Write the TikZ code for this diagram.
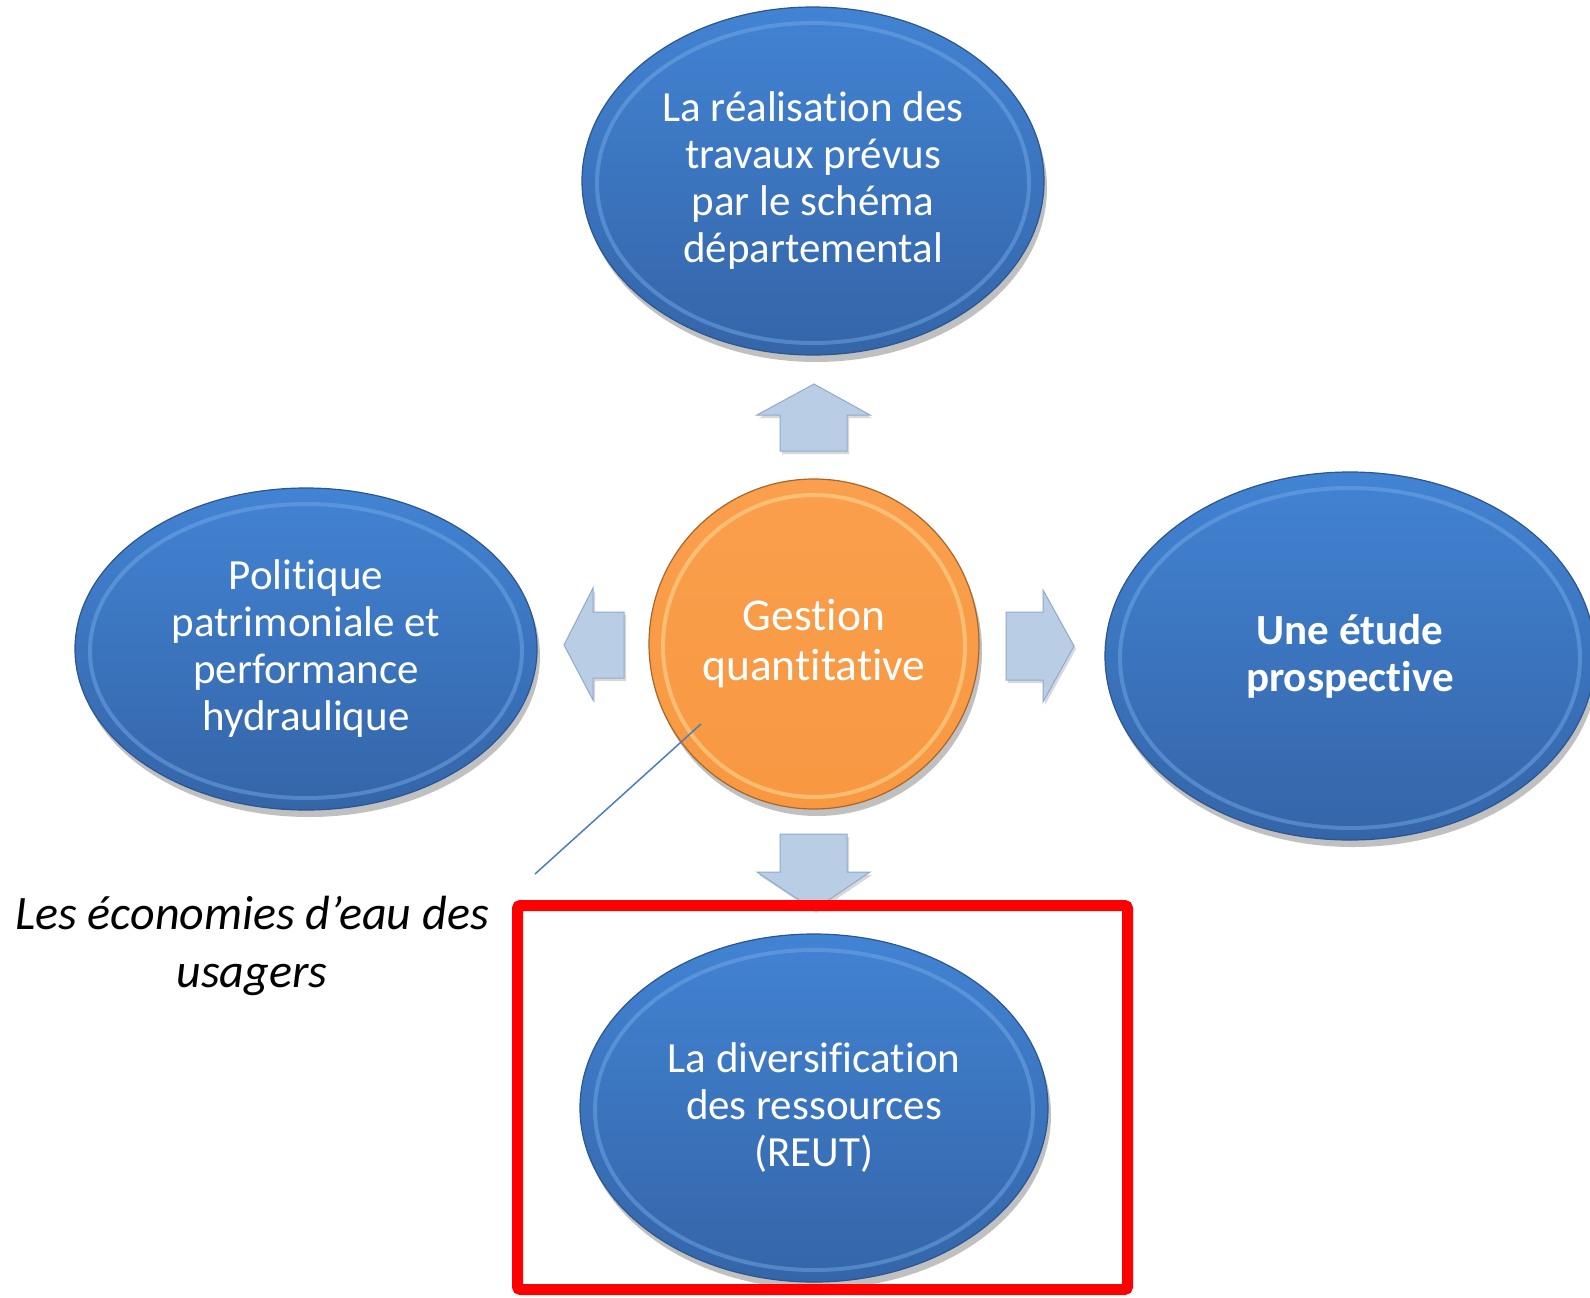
\documentclass[tikz,border=0pt]{standalone}
\usepackage{fontspec}
\setmainfont[Ligatures=NoCommon]{Carlito}
\usetikzlibrary{shapes.geometric,shadows}
\definecolor{bluetop}{HTML}{4283D3}
\definecolor{bluebot}{HTML}{3465A8}
\definecolor{blueedge}{HTML}{2B5690}
\definecolor{bluerim}{HTML}{79AEEB}
\definecolor{orangetop}{HTML}{FA9F4D}
\definecolor{orangebot}{HTML}{F89841}
\definecolor{orangeedge}{HTML}{A8662A}
\definecolor{orangerim}{HTML}{FFD690}
\definecolor{arrowfill}{HTML}{B9CDE5}
\definecolor{arrowedge}{HTML}{8FAAD0}
\definecolor{calloutline}{HTML}{4A7EBB}
\tikzset{
  bubble/.style={ellipse, inner sep=0pt, top color=bluetop, bottom color=bluebot,
    draw=blueedge, line width=1.2pt, text=white, align=center,
    font=\fontsize{43}{47}\selectfont,
    drop shadow={shadow xshift=3pt, shadow yshift=-7pt, opacity=0.35, fill=black!70}},
  rim/.style={ellipse, inner sep=0pt, draw=bluerim, line width=4pt, opacity=0.45},
  hub/.style={circle, inner sep=0pt, top color=orangetop, bottom color=orangebot,
    draw=orangeedge, line width=1.2pt, text=white, align=center,
    font=\fontsize{45.5}{50}\selectfont,
    drop shadow={shadow xshift=3pt, shadow yshift=-7pt, opacity=0.35, fill=black!70}},
  hubrim/.style={circle, inner sep=0pt, draw=orangerim, line width=4pt, opacity=0.6},
  blockarrow/.style={fill=arrowfill, draw=arrowedge, line width=1pt, line join=miter,
    drop shadow={shadow xshift=2pt, shadow yshift=-3pt, opacity=0.25, fill=black!60}},
  callout/.style={draw=calloutline, line width=1.5pt},
  redframe/.style={draw=red, line width=11pt, rounded corners=3pt},
  note/.style={font=\fontsize{48}{58}\selectfont\itshape, align=center, text=black}
}
\begin{document}
\begin{tikzpicture}[x=1pt,y=-1pt]
\useasboundingbox (0,0) rectangle (1590,1298);
\fill[white] (0,0) rectangle (1590,1298);

% block arrows
\draw[blockarrow] (814,384) -- (870,415) -- (847,415) -- (847,451) -- (780,451) -- (780,415) -- (757,415) -- cycle;
\draw[blockarrow] (564,645) -- (593,588) -- (593,612) -- (624,612) -- (624,678) -- (593,678) -- (593,700) -- cycle;
\draw[blockarrow] (1006,612) -- (1043,612) -- (1043,590) -- (1074,646) -- (1043,702) -- (1043,680) -- (1006,680) -- cycle;
\draw[blockarrow] (780,834) -- (847,834) -- (847,872) -- (870,872) -- (814,910) -- (757,872) -- (780,872) -- cycle;

% ellipses
\node[bubble, minimum width=462pt, minimum height=348pt] (top) at (813,181) {La réalisation des\\travaux prévus\\par le schéma\\départemental};
\node[rim, minimum width=432pt, minimum height=320pt] (toprim) at (813,183) {};

\node[bubble, minimum width=462pt, minimum height=322pt] (left) at (306,649) {Politique\\patrimoniale et\\performance\\hydraulique};
\node[rim, minimum width=432pt, minimum height=294pt] (leftrim) at (306,651) {};

\node[bubble, minimum width=490pt, minimum height=368pt, font=\fontsize{43}{47}\selectfont\bfseries] (right) at (1350,656) {Une étude\\prospective};
\node[rim, minimum width=460pt, minimum height=340pt] (rightrim) at (1350,658) {};

\node[hub, minimum size=330pt] (hub) at (814,644) {Gestion\\quantitative};
\node[hubrim, minimum size=302pt] (hubrim) at (814,646) {};

\node[bubble, minimum width=468pt, minimum height=348pt] (bottom) at (814,1108) {La diversification\\des ressources\\(REUT)};
\node[rim, minimum width=438pt, minimum height=320pt] (bottomrim) at (814,1110) {};

% red frame
\draw[redframe] (517.5,905.5) rectangle (1127.5,1289.5);

% callout
\node[note] (note) at (252,946) {Les économies d’eau des\\usagers};
\coordinate (calloutend) at (535,874);
\coordinate (calloutstart) at (701,724);
\draw[callout] (calloutstart) -- (calloutend);
\end{tikzpicture}
\end{document}
